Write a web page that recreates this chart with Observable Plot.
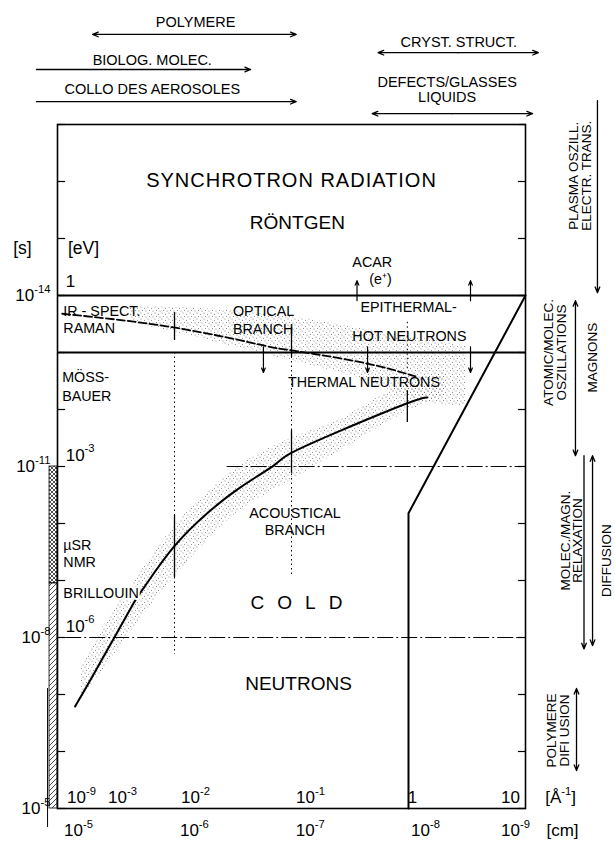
<!DOCTYPE html>
<html><head><meta charset="utf-8">
<script src="https://cdn.jsdelivr.net/npm/d3@7"></script>
<script src="https://cdn.jsdelivr.net/npm/@observablehq/plot@0.6"></script>
<style>html,body{margin:0;padding:0;background:#fff;}</style>
</head><body><div id="chart"></div>
<script>
// x = log10(length / cm), y = log10(time / s)
const lengthLabels = ["10^-5","10^-6","10^-7","10^-8","10^-9"];
const lengthLabelPos = [-5.18,-6.17,-7.16,-8.145,-8.915];
const qLabels = ["10^-9","10^-3","10^-2","10^-1","1","10"];
const qLabelPos = [-5.205,-5.556,-6.179,-7.162,-8.034,-8.872];
const timeDecades = d3.range(-17,-4);
const timeLabels = ["10^-14","10^-11","10^-8","10^-5"];
const timeLabelPos = [-14,-11,-8,-5];
const energyLabels = ["1","10^-3","10^-6"];
const energyLabelPos = [-14.25,-11.2,-8.2];

// dispersion curves
const acousticX = [-5.15,-5.28,-5.48,-5.65,-5.74,-5.99,-6.28,-6.56,-6.85,-6.99,-7.42,-7.99,-8.16];
const acousticY = [-6.79,-7.25,-7.98,-8.60,-8.88,-9.58,-10.18,-10.63,-11.02,-11.23,-11.63,-12.11,-12.21];
const opticalX = [-5.04,-5.99,-6.77,-6.99,-7.59,-8.06];
const opticalY = [-13.68,-13.44,-13.12,-13.04,-12.83,-12.58];
// stippled bands
const acBandX  = [-5.2,-5.45,-5.71,-5.99,-6.28,-6.56,-6.99,-7.42,-7.93,-8.32];
const acBandHi = [-7.45,-8.39,-9.14,-9.93,-10.54,-11.02,-11.49,-11.84,-12.42,-12.65];
const acBandLo = [-6.90,-7.60,-8.33,-9.04,-9.70,-10.23,-10.75,-11.28,-11.90,-12.25];
const opBandX  = [-5.62,-6.22,-6.99,-7.59,-8.10,-8.49];
const opBandHi = [-13.81,-13.77,-13.63,-13.42,-13.25,-13.11];
const opBandLo = [-13.53,-13.25,-12.86,-12.54,-12.16,-12.07];
// neutron limit
const limitX = [-8,-8,-9];
const limitY = [-5,-10.18,-14];
// horizontal levels
const bandLines = [-14,-13];
const dashLines = [-11,-8];
const dashStart = [-6.45,-5.07];
// vertical markers
const dotX = [-6,-7,-7.99];
const dotTop = [-13,-13,-13.53];
const dotBot = [-7.7,-9.1,-12.68];
const barX  = [-6,-6,-7,-7,-7.99];
const barY1 = [-13.70,-10.14,-13.44,-11.63,-12.33];
const barY2 = [-13.21,-9.05,-12.91,-10.88,-11.77];
// arrows in frame
const downX = [-6.76,-7.65,-8.53];
const upX = [-7.56,-8.53];
// hatched bar
const hatchCross = [-11,-8.95];
const hatchSingle = [-8.95,-5];

// annotation texts
const bigText = ["SYNCHROTRON RADIATION","RÖNTGEN","COLD","NEUTRONS"];
const bigX = [-7.0,-7.05,-7.098,-7.06];
const bigY = [-16.02,-15.28,-8.61,-7.18];
const leftText = ["IR - SPECT.","RAMAN","OPTICAL","BRANCH","EPITHERMAL-","HOT NEUTRONS","THERMAL NEUTRONS","MÖSS-","BAUER","µSR","NMR"];
const leftX = [-5.05,-5.05,-6.50,-6.50,-7.59,-7.52,-6.97,-5.04,-5.04,-5.05,-5.05];
const leftY = [-13.72,-13.42,-13.72,-13.40,-13.79,-13.28,-12.47,-12.56,-12.23,-9.61,-9.32];
const midText = ["ACAR","(e⁺)","ACOUSTICAL","BRANCH"];
const midX = [-7.69,-7.76,-7.03,-7.03];
const midY = [-14.58,-14.28,-10.18,-9.88];
const topText = ["POLYMERE","BIOLOG. MOLEC.","COLLO DES AEROSOLES","CRYST. STRUCT.","DEFECTS/GLASSES","LIQUIDS"];
const topX = [-6.18,-5.81,-5.81,-8.43,-8.33,-8.33];
const topY = [-18.79,-18.12,-17.61,-18.44,-17.74,-17.47];
const topArrowY = [-18.58,-17.965,-17.40,-18.26,-17.19];
const topArrowFrom = [-5.30,-4.82,-4.82,-7.74,-7.69];
const topArrowTo = [-7.04,-6.65,-7.04,-9.11,-9.06];
const topArrowBoth = [true,false,false,true,true];
const sideText = ["PLASMA OSZILL.\nELECTR. TRANS.","ATOMIC/MOLEC.\nOSZILLATIONS","MAGNONS","MOLEC./MAGN.\nRELAXATION","DIFFUSION","POLYMERE\nDIFI USION"];
const sideX = [-9.466,-9.252,-9.573,-9.397,-9.692,-9.282];
const sideY = [-16.1,-13.0,-12.91,-9.7,-9.35,-6.37];
const sideArrowX = [-9.615,-9.427,-9.50,-9.573,-9.436];
const sideArrowFrom = [-17.42,-13.91,-11.19,-11.19,-7.105];
const sideArrowTo = [-14.05,-11.19,-7.8,-7.86,-5.667];
const sideArrowBoth = [false,true,false,true,true];

const FONT = "'Liberation Sans', Arial, Helvetica, sans-serif";
const rows = (...cols) => cols[0].map((_, i) => cols.map(c => c[i]));
const pts = (xs, ys) => xs.map((x, i) => ({x, y: ys[i]}));

function arrows(ys, from, to, both, vertical) {
  const out = [];
  ys.forEach((c, i) => {
    if (both[i]) {
      const m = (from[i] + to[i]) / 2;
      out.push({c, a: m, b: from[i]}, {c, a: m, b: to[i]});
    } else out.push({c, a: from[i], b: to[i]});
  });
  return vertical
    ? Plot.arrow(out, {x1: "c", x2: "c", y1: "a", y2: "b", headLength: 7, headAngle: 45, strokeWidth: 1.3})
    : Plot.arrow(out, {y1: "c", y2: "c", x1: "a", x2: "b", headLength: 7, headAngle: 45, strokeWidth: 1.3});
}

const chart = Plot.plot({
  width: 615, height: 844,
  marginLeft: 57, marginRight: 90, marginTop: 124, marginBottom: 36,
  x: {type: "linear", domain: [-5, -9], axis: null},
  y: {type: "linear", domain: [-5, -17], axis: null},
  style: {fontFamily: FONT, background: "white", color: "black"},
  marks: [
    Plot.areaY(acBandX.map((x, i) => ({x, lo: acBandLo[i], hi: acBandHi[i]})), {x: "x", y1: "lo", y2: "hi", fill: "url(#stip)", curve: "natural"}),
    Plot.areaY(opBandX.map((x, i) => ({x, lo: opBandLo[i], hi: opBandHi[i]})), {x: "x", y1: "lo", y2: "hi", fill: "url(#stip)", curve: "natural"}),
    Plot.link(timeDecades, {x1: -5, x2: -5.065, y1: d => d, y2: d => d, strokeWidth: 1.2}),
    Plot.link(timeDecades, {x1: -9, x2: -8.935, y1: d => d, y2: d => d, strokeWidth: 1.2}),
    Plot.ruleY(bandLines, {x1: -5, x2: -9, strokeWidth: 2}),
    Plot.ruleY(dashLines, {x1: (d, i) => dashStart[i], x2: -9, strokeWidth: 1, strokeDasharray: "16,3,2,3"}),
    Plot.ruleX(dotX, {y1: (d, i) => dotTop[i], y2: (d, i) => dotBot[i], strokeWidth: 1, strokeDasharray: "1.5,3"}),
    Plot.ruleX(barX, {y1: (d, i) => barY1[i], y2: (d, i) => barY2[i], strokeWidth: 1.3}),
    Plot.line(pts(limitX, limitY), {x: "x", y: "y", strokeWidth: 2}),
    Plot.line(pts(opticalX, opticalY), {x: "x", y: "y", strokeWidth: 1.8, strokeDasharray: "8,3", curve: "natural"}),
    Plot.line(pts(acousticX, acousticY), {x: "x", y: "y", strokeWidth: 2, curve: "natural"}),
    Plot.arrow(downX, {x1: d => d, x2: d => d, y1: -13.1, y2: -12.65, headLength: 6, headAngle: 45, strokeWidth: 1.2}),
    Plot.arrow(upX, {x1: d => d, x2: d => d, y1: -13.91, y2: -14.26, headLength: 6, headAngle: 45, strokeWidth: 1.2}),
    Plot.rect([hatchCross], {x1: -4.932, x2: -5, y1: d => d[0], y2: d => d[1], fill: "url(#xhatch)", stroke: "black", strokeWidth: 0.8}),
    Plot.rect([hatchSingle], {x1: -4.932, x2: -5, y1: d => d[0], y2: d => d[1], fill: "url(#hatch)", stroke: "black", strokeWidth: 0.8}),
    Plot.ruleX([-4.915], {y1: -7.105, y2: -4.667, strokeWidth: 1}),
    Plot.text(rows(bigText, bigX, bigY), {text: d => d[0], x: d => d[1], y: d => d[2], fontSize: 19, textAnchor: "middle"}),
    Plot.text(rows(leftText, leftX, leftY), {text: d => d[0], x: d => d[1], y: d => d[2], fontSize: 14.3, textAnchor: "start"}),
    Plot.text(["BRILLOUIN"], {x: -5.05, y: -8.77, fontSize: 14.3, textAnchor: "start", stroke: "white", strokeWidth: 4, fill: "black"}),
    Plot.text(rows(midText, midX, midY), {text: d => d[0], x: d => d[1], y: d => d[2], fontSize: 14.3, textAnchor: "middle"}),
    Plot.text(rows(topText, topX, topY), {text: d => d[0], x: d => d[1], y: d => d[2], fontSize: 14.5, textAnchor: "middle"}),
    Plot.text(rows(sideText, sideX, sideY), {text: d => d[0], x: d => d[1], y: d => d[2], fontSize: 13.5, rotate: -90, lineHeight: 0.95, textAnchor: "middle"}),
    arrows(topArrowY, topArrowFrom, topArrowTo, topArrowBoth, false),
    arrows(sideArrowX, sideArrowFrom, sideArrowTo, sideArrowBoth, true),
    Plot.text(timeLabels, {x: -4.94, y: (d, i) => timeLabelPos[i], text: d => d, fontSize: 17, textAnchor: "end"}),
    Plot.text(energyLabels, {x: -5.07, y: (d, i) => energyLabelPos[i], text: d => d, fontSize: 17, textAnchor: "start"}),
    Plot.text(["[s]", "[eV]"], {x: (d, i) => [-4.7, -5.222][i], y: -14.82, text: d => d, fontSize: 17.5, textAnchor: "middle"}),
    Plot.text(qLabels, {x: (d, i) => qLabelPos[i], y: -5.19, text: d => d, fontSize: 17, textAnchor: "middle"}),
    Plot.text(lengthLabels, {x: (d, i) => lengthLabelPos[i], y: -4.61, text: d => d, fontSize: 17, textAnchor: "middle"}),
    Plot.text(["[Å^-1]", "[cm]"], {x: (d, i) => [-9.30, -9.316][i], y: (d, i) => [-5.19, -4.61][i], text: d => d, fontSize: 17, textAnchor: "middle"}),
    Plot.frame({strokeWidth: 1.6})
  ]
});

const ns = "http://www.w3.org/2000/svg";
const defs = d3.select(chart).insert("defs", ":first-child");
const stip = defs.append("pattern").attr("id", "stip").attr("patternUnits", "userSpaceOnUse").attr("width", 7).attr("height", 6);
[[1,1],[4.5,2.2],[2.5,4.5],[6,5]].forEach(([cx, cy]) => stip.append("circle").attr("cx", cx).attr("cy", cy).attr("r", 0.5).attr("fill", "#666"));
const hatch = defs.append("pattern").attr("id", "hatch").attr("patternUnits", "userSpaceOnUse").attr("width", 5).attr("height", 5);
hatch.append("path").attr("d", "M-1,6 L6,-1 M-1,1 L1,-1 M4,6 L6,4").attr("stroke", "black").attr("stroke-width", 0.7);
const xh = defs.append("pattern").attr("id", "xhatch").attr("patternUnits", "userSpaceOnUse").attr("width", 4).attr("height", 4);
xh.append("path").attr("d", "M-1,5 L5,-1 M-1,-1 L5,5").attr("stroke", "black").attr("stroke-width", 0.7);

chart.querySelectorAll("text").forEach(t => {
  const s = t.textContent;
  if (s === "SYNCHROTRON RADIATION") { t.setAttribute("font-size", "20"); t.style.letterSpacing = "1px"; }
  if (s === "COLD") t.style.letterSpacing = "13px";
  if (t.querySelector("tspan")) return;
  const m = s.match(/^(.*?)\^([-+0-9]+)(.*)$/);
  if (!m) return;
  t.textContent = "";
  const a = document.createElementNS(ns, "tspan"); a.textContent = m[1];
  const b = document.createElementNS(ns, "tspan"); b.textContent = m[2];
  b.setAttribute("font-size", "0.66em"); b.setAttribute("dy", "-0.72em");
  t.append(a, b);
  if (m[3]) {
    const c = document.createElementNS(ns, "tspan"); c.textContent = m[3];
    c.setAttribute("dy", "0.475em");
    t.append(c);
  }
});
document.getElementById("chart").append(chart);
</script></body></html>
